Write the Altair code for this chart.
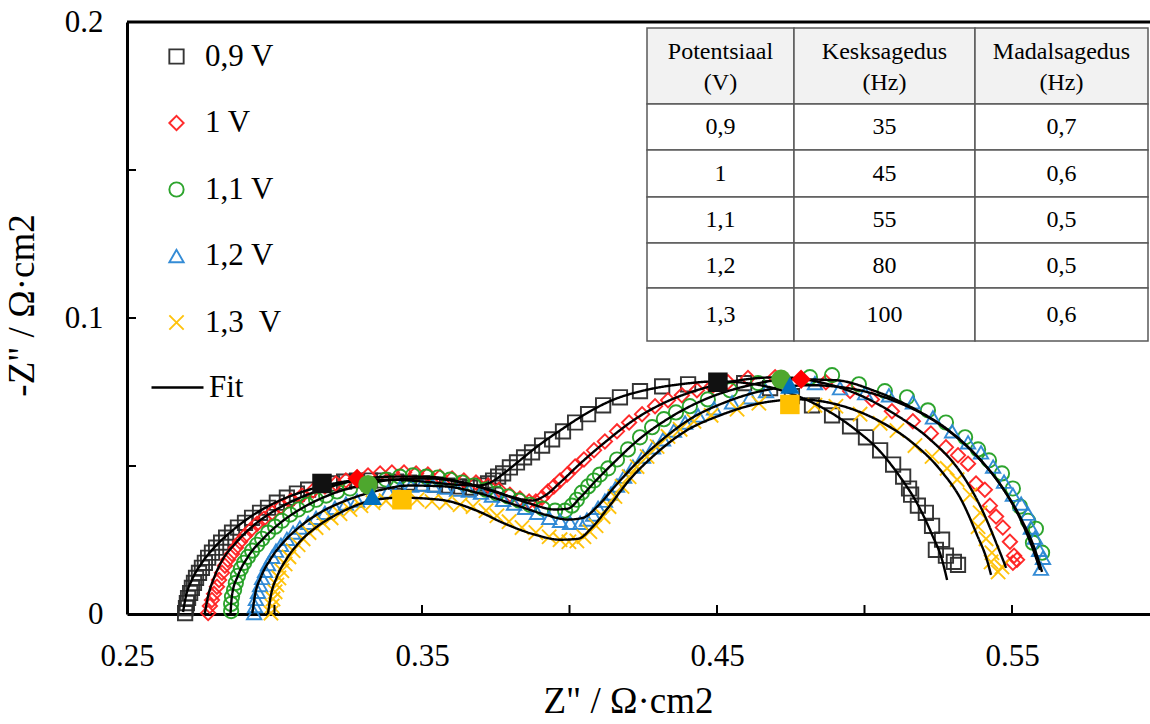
import altair as alt
import pandas as pd

FONT = "Liberation Serif"

# Nyquist data: (Z', -Z'') pairs in ohm*cm2 for each cell potential
SERIES = ["0,9 V", "1 V", "1,1 V", "1,2 V", "1,3\u00a0 V"]

PTS_09 = [(0.2697,0.0003),(0.2700,0.0020),(0.2703,0.0037),(0.2707,0.0054),(0.2714,0.0071),(0.2720,0.0088),(0.2727,0.0105),(0.2734,0.0122),(0.2744,0.0139),(0.2754,0.0156),(0.2764,0.0173),(0.2775,0.0190),(0.2788,0.0207),(0.2802,0.0224),(0.2819,0.0241),(0.2836,0.0258),(0.2856,0.0275),(0.2876,0.0292),(0.2900,0.0308),(0.2924,0.0325),(0.2951,0.0342),(0.2978,0.0359),(0.3008,0.0376),(0.3042,0.0393),(0.3076,0.0407),(0.3114,0.0420),(0.3195,0.0441),(0.3236,0.0447),(0.3280,0.0451),(0.3324,0.0451),(0.3368,0.0451),(0.3412,0.0447),(0.3456,0.0444),(0.3500,0.0441),(0.3544,0.0437),(0.3585,0.0434),(0.3625,0.0431),(0.3663,0.0427),(0.3700,0.0434),(0.3724,0.0441),(0.3741,0.0451),(0.3758,0.0464),(0.3775,0.0475),(0.3798,0.0495),(0.3822,0.0512),(0.3846,0.0529),(0.3873,0.0546),(0.3907,0.0569),(0.3941,0.0590),(0.3978,0.0617),(0.4019,0.0647),(0.4063,0.0675),(0.4114,0.0705),(0.4171,0.0732),(0.4239,0.0753),(0.4314,0.0769),(0.4402,0.0776),(0.4592,0.0780),(0.4680,0.0763),(0.4754,0.0736),(0.4822,0.0705),(0.4890,0.0671),(0.4951,0.0634),(0.5005,0.0597),(0.5053,0.0553),(0.5097,0.0505),(0.5131,0.0464),(0.5151,0.0424),(0.5158,0.0403),(0.5181,0.0366),(0.5208,0.0342),(0.5229,0.0298),(0.5263,0.0251),(0.5242,0.0217),(0.5276,0.0197),(0.5303,0.0176),(0.5317,0.0166)]

PTS_10 = [(0.2775,0.0003),(0.2781,0.0027),(0.2788,0.0047),(0.2795,0.0068),(0.2805,0.0092),(0.2812,0.0115),(0.2822,0.0139),(0.2832,0.0163),(0.2842,0.0183),(0.2856,0.0203),(0.2869,0.0224),(0.2883,0.0244),(0.2900,0.0264),(0.2920,0.0285),(0.2941,0.0305),(0.2964,0.0322),(0.2992,0.0342),(0.3022,0.0363),(0.3056,0.0383),(0.3093,0.0400),(0.3131,0.0417),(0.3171,0.0431),(0.3208,0.0441),(0.3242,0.0451),(0.3317,0.0468),(0.3358,0.0475),(0.3398,0.0478),(0.3439,0.0478),(0.3480,0.0475),(0.3520,0.0471),(0.3561,0.0464),(0.3602,0.0458),(0.3642,0.0451),(0.3683,0.0444),(0.3724,0.0434),(0.3761,0.0420),(0.3798,0.0403),(0.3832,0.0390),(0.3863,0.0380),(0.3886,0.0380),(0.3907,0.0393),(0.3927,0.0414),(0.3947,0.0431),(0.3968,0.0451),(0.3992,0.0471),(0.4019,0.0498),(0.4049,0.0522),(0.4083,0.0553),(0.4120,0.0583),(0.4161,0.0617),(0.4202,0.0647),(0.4246,0.0675),(0.4290,0.0702),(0.4334,0.0722),(0.4381,0.0739),(0.4432,0.0756),(0.4483,0.0769),(0.4537,0.0783),(0.4605,0.0797),(0.4697,0.0800),(0.4869,0.0783),(0.4951,0.0753),(0.5025,0.0725),(0.5093,0.0685),(0.5164,0.0651),(0.5225,0.0610),(0.5276,0.0563),(0.5317,0.0536),(0.5351,0.0508),(0.5378,0.0441),(0.5408,0.0420),(0.5425,0.0366),(0.5446,0.0329),(0.5469,0.0292),(0.5493,0.0244),(0.5507,0.0197),(0.5517,0.0183),(0.5503,0.0173)]

PTS_11 = [(0.2853,0.0010),(0.2853,0.0034),(0.2856,0.0058),(0.2863,0.0081),(0.2869,0.0105),(0.2876,0.0129),(0.2886,0.0153),(0.2897,0.0173),(0.2910,0.0193),(0.2924,0.0214),(0.2941,0.0234),(0.2958,0.0254),(0.2978,0.0275),(0.3002,0.0295),(0.3025,0.0315),(0.3053,0.0336),(0.3080,0.0353),(0.3110,0.0369),(0.3141,0.0386),(0.3175,0.0400),(0.3212,0.0414),(0.3256,0.0424),(0.3378,0.0454),(0.3425,0.0464),(0.3469,0.0468),(0.3514,0.0464),(0.3554,0.0461),(0.3595,0.0454),(0.3636,0.0444),(0.3676,0.0434),(0.3717,0.0420),(0.3754,0.0407),(0.3792,0.0397),(0.3829,0.0383),(0.3866,0.0369),(0.3910,0.0356),(0.3951,0.0349),(0.3985,0.0349),(0.4008,0.0366),(0.4025,0.0386),(0.4042,0.0410),(0.4063,0.0431),(0.4083,0.0451),(0.4103,0.0471),(0.4131,0.0492),(0.4161,0.0522),(0.4198,0.0556),(0.4239,0.0597),(0.4280,0.0631),(0.4320,0.0658),(0.4361,0.0681),(0.4408,0.0702),(0.4469,0.0725),(0.4544,0.0756),(0.4639,0.0780),(0.4815,0.0800),(0.4890,0.0807),(0.4981,0.0776),(0.5069,0.0753),(0.5144,0.0732),(0.5215,0.0688),(0.5276,0.0647),(0.5341,0.0597),(0.5385,0.0556),(0.5422,0.0519),(0.5466,0.0475),(0.5503,0.0424),(0.5527,0.0363),(0.5554,0.0315),(0.5581,0.0288),(0.5571,0.0241),(0.5602,0.0207)]

PTS_12 = [(0.2931,0.0003),(0.2934,0.0027),(0.2937,0.0051),(0.2944,0.0075),(0.2951,0.0098),(0.2958,0.0122),(0.2968,0.0146),(0.2978,0.0169),(0.2992,0.0193),(0.3005,0.0214),(0.3022,0.0234),(0.3042,0.0254),(0.3063,0.0275),(0.3086,0.0292),(0.3114,0.0308),(0.3141,0.0325),(0.3171,0.0342),(0.3205,0.0359),(0.3242,0.0373),(0.3280,0.0383),(0.3385,0.0414),(0.3425,0.0427),(0.3463,0.0434),(0.3500,0.0437),(0.3537,0.0434),(0.3578,0.0427),(0.3619,0.0420),(0.3659,0.0417),(0.3700,0.0410),(0.3737,0.0400),(0.3775,0.0386),(0.3812,0.0373),(0.3849,0.0359),(0.3890,0.0342),(0.3931,0.0325),(0.3968,0.0315),(0.4002,0.0308),(0.4036,0.0308),(0.4059,0.0319),(0.4080,0.0336),(0.4097,0.0359),(0.4120,0.0383),(0.4141,0.0407),(0.4161,0.0434),(0.4185,0.0464),(0.4215,0.0498),(0.4249,0.0532),(0.4283,0.0563),(0.4317,0.0590),(0.4354,0.0620),(0.4392,0.0647),(0.4436,0.0671),(0.4490,0.0695),(0.4551,0.0715),(0.4612,0.0732),(0.4666,0.0753),(0.4832,0.0780),(0.4917,0.0763),(0.5002,0.0746),(0.5083,0.0739),(0.5164,0.0715),(0.5232,0.0664),(0.5297,0.0617),(0.5351,0.0580),(0.5395,0.0546),(0.5436,0.0498),(0.5473,0.0447),(0.5503,0.0403),(0.5531,0.0373),(0.5554,0.0339),(0.5564,0.0292),(0.5578,0.0258),(0.5592,0.0217),(0.5605,0.0190),(0.5598,0.0153)]

PTS_13 = [(0.2988,0.0003),(0.2992,0.0027),(0.2995,0.0051),(0.3002,0.0075),(0.3008,0.0098),(0.3015,0.0122),(0.3025,0.0146),(0.3036,0.0169),(0.3049,0.0193),(0.3063,0.0214),(0.3080,0.0234),(0.3097,0.0254),(0.3117,0.0275),(0.3141,0.0292),(0.3164,0.0308),(0.3192,0.0325),(0.3222,0.0339),(0.3256,0.0353),(0.3293,0.0366),(0.3334,0.0376),(0.3378,0.0383),(0.3483,0.0386),(0.3534,0.0380),(0.3581,0.0376),(0.3629,0.0369),(0.3673,0.0363),(0.3717,0.0349),(0.3754,0.0332),(0.3795,0.0312),(0.3839,0.0292),(0.3886,0.0275),(0.3931,0.0261),(0.3968,0.0251),(0.3998,0.0244),(0.4025,0.0247),(0.4049,0.0261),(0.4069,0.0278),(0.4090,0.0298),(0.4114,0.0329),(0.4134,0.0363),(0.4154,0.0397),(0.4178,0.0431),(0.4202,0.0464),(0.4229,0.0498),(0.4263,0.0532),(0.4297,0.0566),(0.4334,0.0600),(0.4375,0.0624),(0.4422,0.0651),(0.4480,0.0671),(0.4568,0.0692),(0.4642,0.0712),(0.4832,0.0705),(0.4903,0.0702),(0.4985,0.0675),(0.5053,0.0644),(0.5110,0.0620),(0.5171,0.0569),(0.5229,0.0532),(0.5280,0.0492),(0.5314,0.0454),(0.5358,0.0403),(0.5392,0.0342),(0.5385,0.0295),(0.5412,0.0254),(0.5432,0.0207),(0.5429,0.0176),(0.5466,0.0159),(0.5453,0.0142)]

# Equivalent-circuit fit curves
FIT_09 = [(0.2690,0.0007),(0.2700,0.0061),(0.2720,0.0115),(0.2754,0.0173),(0.2798,0.0227),(0.2856,0.0281),(0.2924,0.0332),(0.3002,0.0376),(0.3086,0.0410),(0.3171,0.0434),(0.3273,0.0451),(0.3392,0.0454),(0.3510,0.0447),(0.3612,0.0437),(0.3690,0.0434),(0.3737,0.0447),(0.3781,0.0478),(0.3832,0.0519),(0.3900,0.0573),(0.3968,0.0620),(0.4053,0.0675),(0.4144,0.0722),(0.4256,0.0756),(0.4375,0.0776),(0.4503,0.0786),(0.4629,0.0776),(0.4747,0.0746),(0.4866,0.0692),(0.4968,0.0624),(0.5053,0.0549),(0.5120,0.0464),(0.5181,0.0369),(0.5229,0.0268),(0.5263,0.0183),(0.5280,0.0115)]
FIT_10 = [(0.2764,0.0003),(0.2775,0.0061),(0.2795,0.0122),(0.2822,0.0180),(0.2866,0.0237),(0.2924,0.0295),(0.2995,0.0346),(0.3080,0.0390),(0.3171,0.0424),(0.3273,0.0451),(0.3392,0.0464),(0.3510,0.0464),(0.3629,0.0447),(0.3731,0.0420),(0.3815,0.0393),(0.3873,0.0383),(0.3917,0.0400),(0.3968,0.0444),(0.4036,0.0508),(0.4120,0.0580),(0.4222,0.0658),(0.4324,0.0715),(0.4442,0.0759),(0.4578,0.0790),(0.4714,0.0800),(0.4849,0.0783),(0.4985,0.0739),(0.5103,0.0675),(0.5222,0.0590),(0.5324,0.0481),(0.5398,0.0353),(0.5449,0.0234),(0.5480,0.0156)]
FIT_11 = [(0.2851,0.0003),(0.2856,0.0064),(0.2876,0.0129),(0.2910,0.0193),(0.2961,0.0254),(0.3025,0.0312),(0.3103,0.0363),(0.3188,0.0403),(0.3290,0.0434),(0.3408,0.0454),(0.3527,0.0458),(0.3646,0.0441),(0.3764,0.0407),(0.3866,0.0373),(0.3951,0.0353),(0.3995,0.0356),(0.4036,0.0393),(0.4086,0.0447),(0.4154,0.0515),(0.4239,0.0593),(0.4341,0.0664),(0.4459,0.0725),(0.4595,0.0769),(0.4747,0.0793),(0.4900,0.0790),(0.5036,0.0753),(0.5171,0.0692),(0.5290,0.0617),(0.5392,0.0522),(0.5476,0.0414),(0.5537,0.0302),(0.5578,0.0200),(0.5595,0.0149)]
FIT_12 = [(0.2925,0.0003),(0.2934,0.0064),(0.2954,0.0125),(0.2985,0.0183),(0.3029,0.0241),(0.3086,0.0295),(0.3161,0.0346),(0.3249,0.0386),(0.3351,0.0417),(0.3459,0.0434),(0.3578,0.0431),(0.3697,0.0407),(0.3815,0.0369),(0.3917,0.0336),(0.3995,0.0319),(0.4046,0.0325),(0.4097,0.0366),(0.4154,0.0431),(0.4222,0.0505),(0.4307,0.0583),(0.4408,0.0658),(0.4527,0.0715),(0.4663,0.0756),(0.4815,0.0773),(0.4968,0.0759),(0.5103,0.0719),(0.5239,0.0651),(0.5358,0.0556),(0.5453,0.0447),(0.5527,0.0329),(0.5578,0.0217),(0.5602,0.0142)]
FIT_13 = [(0.2978,0.0003),(0.2988,0.0064),(0.3008,0.0125),(0.3039,0.0183),(0.3083,0.0241),(0.3144,0.0295),(0.3222,0.0342),(0.3317,0.0380),(0.3425,0.0393),(0.3561,0.0386),(0.3686,0.0349),(0.3781,0.0305),(0.3883,0.0268),(0.3968,0.0251),(0.4029,0.0254),(0.4076,0.0292),(0.4131,0.0359),(0.4198,0.0447),(0.4290,0.0539),(0.4392,0.0617),(0.4510,0.0671),(0.4646,0.0712),(0.4781,0.0725),(0.4917,0.0705),(0.5046,0.0654),(0.5161,0.0580),(0.5256,0.0488),(0.5331,0.0380),(0.5381,0.0268),(0.5415,0.0183),(0.5429,0.0132)]

# Highlighted points at the middle and low characteristic frequencies
MID_PTS = [(0.3161,0.0441),(0.3280,0.0458),(0.3317,0.0437),(0.3331,0.0397),(0.3432,0.0386)]
LOW_PTS = [(0.4503,0.0783),(0.4785,0.0793),(0.4717,0.0793),(0.4747,0.0773),(0.4747,0.0708)]

# Table of characteristic frequencies
TABLE_HEAD = [("Potentsiaal", "(V)"), ("Kesksagedus", "(Hz)"), ("Madalsagedus", "(Hz)")]
TABLE_ROWS = [("0,9", "35", "0,7"), ("1", "45", "0,6"), ("1,1", "55", "0,5"),
              ("1,2", "80", "0,5"), ("1,3", "100", "0,6")]

OPEN_COLORS = ["#2b2b2b", "#ff2020", "#22a022", "#2a86d4", "#ffc000"]
FILL_COLORS = ["#111111", "#ff0000", "#4ea72e", "#0070c0", "#ffc000"]
XMARK = "M-1,-1L1,1M-1,1L1,-1"
OPEN_SHAPES = ["square", "diamond", "circle", "triangle-up", XMARK]
FILL_SHAPES = ["square", "diamond", "circle", "triangle-up", "square"]

W, H = 1023, 592
X_DOMAIN = [0.25, 0.25 + 0.35 * W / 1032.5]
Y_DOMAIN = [0.0, 0.2]

data_rows, fit_rows, char_rows = [], [], []
for name, pts, fit in zip(SERIES,
                          [PTS_09, PTS_10, PTS_11, PTS_12, PTS_13],
                          [FIT_09, FIT_10, FIT_11, FIT_12, FIT_13]):
    for zr, zi in pts:
        data_rows.append({"series": name, "zr": zr, "zi": zi})
    for i, (zr, zi) in enumerate(fit):
        fit_rows.append({"series": name, "zr": zr, "zi": zi, "i": i, "kind": "Fit"})
for name, m, l in zip(SERIES, MID_PTS, LOW_PTS):
    char_rows.append({"series_f": name, "zr": m[0], "zi": m[1]})
    char_rows.append({"series_f": name, "zr": l[0], "zi": l[1]})

df_pts = pd.DataFrame(data_rows)
df_fit = pd.DataFrame(fit_rows)
df_char = pd.DataFrame(char_rows)

xscale = alt.Scale(domain=X_DOMAIN, nice=False, zero=False)
yscale = alt.Scale(domain=Y_DOMAIN, nice=False, zero=False)

x_axis = alt.Axis(values=[0.25, 0.35, 0.45, 0.55], format=".2f", ticks=False, tickSize=0,
                  grid=False, domainColor="black", domainWidth=3, labelFont=FONT,
                  labelFontSize=31, labelColor="black", labelPadding=51,
                  labelBaseline="alphabetic", labelFlush=False, labelOverlap=False,
                  titleFont=FONT, titleFontSize=37, titleFontWeight="normal",
                  titleColor="black", titleX=501, titleY=98, titleBaseline="alphabetic")
y_axis = alt.Axis(values=[0, 0.1, 0.2], format=".1~f", ticks=False, tickSize=0,
                  grid=False, domainColor="black", domainWidth=3, labelFont=FONT,
                  labelFontSize=31, labelColor="black", labelPadding=24,
                  labelFlush=False, labelOverlap=False,
                  titleFont=FONT, titleFontSize=37, titleFontWeight="normal",
                  titleColor="black", titleX=-86, titleY=283)


def X():
    return alt.X("zr:Q", scale=xscale, axis=x_axis, title='Z" / Ω·cm2')


def Y():
    return alt.Y("zi:Q", scale=yscale, axis=y_axis, title='-Z" / Ω·cm2')


series_legend = alt.Legend(title=None, orient="none", legendX=34, legendY=19, padding=0,
                           labelFont=FONT, labelFontSize=31, labelColor="black",
                           symbolSize=205, symbolStrokeWidth=1.9, rowPadding=34.5,
                           labelOffset=13, symbolFillColor="transparent")

points = alt.Chart(df_pts).mark_point(filled=False, size=205, strokeWidth=1.9, opacity=0.95).encode(
    x=X(), y=Y(),
    color=alt.Color("series:N", scale=alt.Scale(domain=SERIES, range=OPEN_COLORS), legend=series_legend),
    shape=alt.Shape("series:N", scale=alt.Scale(domain=SERIES, range=OPEN_SHAPES), legend=series_legend),
)

fit_legend = alt.Legend(title=None, orient="none", legendX=23, legendY=338, padding=0,
                        labelFont=FONT, labelFontSize=31, labelColor="black",
                        symbolType="stroke", symbolSize=2704, symbolStrokeWidth=2.5,
                        symbolStrokeColor="black", labelOffset=4)

fits = alt.Chart(df_fit).mark_line(color="black", strokeWidth=2.4, interpolate="monotone").encode(
    x=X(), y=Y(), detail="series:N", order="i:Q",
    strokeDash=alt.StrokeDash("kind:N", scale=alt.Scale(domain=["Fit"], range=[[1, 0]]), legend=fit_legend),
)

char_marks = alt.Chart(df_char).mark_point(filled=True, size=380, opacity=1).encode(
    x=X(), y=Y(),
    color=alt.Color("series_f:N", scale=alt.Scale(domain=SERIES, range=FILL_COLORS), legend=None),
    shape=alt.Shape("series_f:N", scale=alt.Scale(domain=SERIES, range=FILL_SHAPES), legend=None),
)

# Inward tick marks on both axes
xticks = alt.Chart(pd.DataFrame({"zr": [0.30, 0.35, 0.40, 0.45, 0.50, 0.55]})).mark_rule(
    color="black", strokeWidth=2).encode(x=X(), y=alt.value(H), y2=alt.value(H - 9))
yticks = alt.Chart(pd.DataFrame({"zi": [0.05, 0.10, 0.15]})).mark_rule(
    color="black", strokeWidth=2).encode(y=Y(), x=alt.value(0), x2=alt.value(9))
top_frame = alt.Chart(pd.DataFrame({"k": [0]})).mark_rule(color="black", strokeWidth=3).encode(
    x=alt.value(0), x2=alt.value(W), y=alt.value(0))

plot = alt.layer(points, fits, char_marks, xticks, yticks, top_frame).resolve_scale(
    color="independent", shape="independent")

# Table layout (pixel edges inside the plot area)
COL_EDGES = [520, 667, 848, 1021]
ROW_EDGES = [6, 82, 128, 175, 221, 266, 319]
HEAD_LINES_Y = [30, 61]

cells, texts = [], []
for r in range(len(ROW_EDGES) - 1):
    for c in range(len(COL_EDGES) - 1):
        cells.append({"x0": COL_EDGES[c], "x1": COL_EDGES[c + 1],
                      "y0": ROW_EDGES[r], "y1": ROW_EDGES[r + 1],
                      "bg": "head" if r == 0 else "body"})
for c, (l1, l2) in enumerate(TABLE_HEAD):
    cx = (COL_EDGES[c] + COL_EDGES[c + 1]) / 2
    texts.append({"cx": cx, "cy": HEAD_LINES_Y[0], "t": l1})
    texts.append({"cx": cx, "cy": HEAD_LINES_Y[1], "t": l2})
for r, row in enumerate(TABLE_ROWS):
    cy = (ROW_EDGES[r + 1] + ROW_EDGES[r + 2]) / 2
    for c, val in enumerate(row):
        texts.append({"cx": (COL_EDGES[c] + COL_EDGES[c + 1]) / 2, "cy": cy, "t": val})

table_cells = alt.Chart(pd.DataFrame(cells)).mark_rect(stroke="#595959", strokeWidth=1.5).encode(
    x=alt.X("x0:Q", scale=None, axis=None), x2="x1:Q",
    y=alt.Y("y0:Q", scale=None, axis=None), y2="y1:Q",
    fill=alt.Fill("bg:N", scale=alt.Scale(domain=["head", "body"], range=["#f2f2f2", "#ffffff"]), legend=None),
)
table_text = alt.Chart(pd.DataFrame(texts)).mark_text(
    font=FONT, fontSize=24, color="black", align="center", baseline="middle").encode(
    x=alt.X("cx:Q", scale=None, axis=None), y=alt.Y("cy:Q", scale=None, axis=None), text="t:N")

table = alt.layer(table_cells, table_text)

chart = alt.layer(plot, table).resolve_scale(
    x="independent", y="independent", color="independent", fill="independent"
).properties(
    width=W, height=H,
    autosize=alt.AutoSizeParams(type="none"),
    padding={"left": 127, "top": 22, "right": 0, "bottom": 110},
    background="white",
).configure_view(stroke=None)

chart.save("out.html", embed_options={"renderer": "svg", "actions": False})
